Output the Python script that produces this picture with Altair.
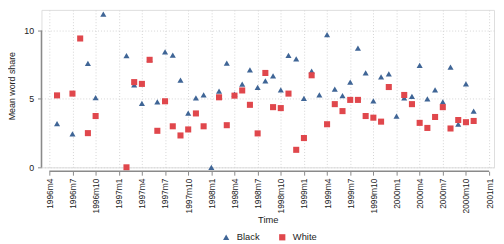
import altair as alt
import pandas as pd

tick_labels = ["1996m4", "1996m7", "1996m10", "1997m1", "1997m4", "1997m7", "1997m10",
               "1998m1", "1998m4", "1998m7", "1998m10", "1999m1", "1999m4", "1999m7",
               "1999m10", "2000m1", "2000m4", "2000m7", "2000m10", "2001m1"]

black_months = ["1996m5", "1996m7", "1996m9", "1996m10", "1996m11", "1997m2", "1997m3",
                "1997m4", "1997m5", "1997m6", "1997m7", "1997m8", "1997m9", "1997m10",
                "1997m11", "1997m12", "1998m1", "1998m2", "1998m3", "1998m4", "1998m5",
                "1998m6", "1998m7", "1998m8", "1998m9", "1998m10", "1998m11", "1998m12",
                "1999m1", "1999m2", "1999m3", "1999m4", "1999m5", "1999m6", "1999m7",
                "1999m8", "1999m9", "1999m10", "1999m11", "1999m12", "2000m1", "2000m2",
                "2000m3", "2000m4", "2000m5", "2000m6", "2000m7", "2000m8", "2000m9",
                "2000m10", "2000m11"]
black_share = [3.2, 2.45, 7.6, 5.1, 11.2, 8.16, 6.02,
               4.67, 7.9, 4.78, 8.45, 8.2, 6.37, 3.97,
               5.07, 5.29, 0.0, 5.58, 7.62, 5.36, 6.08,
               7.12, 5.84, 6.32, 6.68, 5.67, 8.18, 7.93,
               5.05, 7.04, 5.29, 9.71, 5.72, 5.24, 6.23,
               8.72, 6.9, 4.86, 6.61, 6.83, 3.75, 5.07,
               5.19, 7.45, 5.0, 5.67, 4.79, 7.33, 3.15,
               6.1, 4.11]

white_months = ["1996m5", "1996m7", "1996m8", "1996m9", "1996m10", "1997m2", "1997m3",
                "1997m4", "1997m5", "1997m6", "1997m7", "1997m8", "1997m9", "1997m10",
                "1997m11", "1997m12", "1998m2", "1998m3", "1998m4", "1998m5", "1998m6",
                "1998m7", "1998m8", "1998m9", "1998m10", "1998m11", "1998m12", "1999m1",
                "1999m2", "1999m4", "1999m5", "1999m6", "1999m7", "1999m8", "1999m9",
                "1999m10", "1999m11", "1999m12", "2000m2", "2000m3", "2000m4", "2000m5",
                "2000m6", "2000m7", "2000m8", "2000m9", "2000m10", "2000m11"]
white_share = [5.26, 5.39, 9.42, 2.5, 3.75, 0.0, 6.23,
               6.1, 7.86, 2.67, 4.83, 3.0, 2.33, 2.77,
               3.94, 3.0, 5.12, 3.08, 5.24, 5.62, 4.57,
               2.48, 6.9, 4.4, 4.33, 5.39, 1.28, 2.14,
               6.73, 3.15, 4.62, 4.11, 4.93, 4.93, 3.75,
               3.63, 3.34, 5.87, 5.29, 4.62, 3.25, 2.88,
               3.68, 4.4, 2.84, 3.46, 3.3, 3.39]

groups = ["Black", "White"]
colors = ["#3f6596", "#e0474c"]
shapes = ["triangle-up", "square"]


def month_index(s):
    y, m = s.split("m")
    return (int(y) - 1996) * 12 + int(m) - 4


rows = []
for mo, v in zip(black_months, black_share):
    rows.append({"t": month_index(mo), "share": v, "group": "Black"})
for mo, v in zip(white_months, white_share):
    rows.append({"t": month_index(mo), "share": v, "group": "White"})
df = pd.DataFrame(rows)

tick_vals = [month_index(s) for s in tick_labels]
label_expr = "[" + ",".join("'" + s + "'" for s in tick_labels) + "][round(datum.value/3)]"

FONT = "Liberation Sans"
AXIS_GREY = "#8a8a8a"
GRID = "#d4d4d4"

x_scale = alt.Scale(domain=[-1.02, 57.64], nice=False, zero=False)
y_scale = alt.Scale(domain=[0, 11.51], nice=False, zero=False)

legend_kw = dict(title=None, orient="none", direction="horizontal",
                 legendX=183, legendY=226, labelFont=FONT,
                 labelFontSize=9.5, labelColor="#222",
                 columnPadding=18, labelOffset=6, symbolSize=40)

x_axis = alt.Axis(values=tick_vals, labelExpr=label_expr, labelAngle=-90,
                  labelOverlap=False, labelBound=False, labelFlush=False,
                  title="Time", grid=True, gridDash=[1, 2], gridColor=GRID,
                  domain=False, offset=4, tickSize=4, tickColor=AXIS_GREY,
                  labelFont=FONT, labelFontSize=8.5, labelColor="#222",
                  labelPadding=3, titleFont=FONT, titleFontSize=9.5,
                  titleFontWeight="normal", titleColor="#222",
                  titleBaseline="middle", titleY=49)
y_axis = alt.Axis(values=[0, 5, 10], title="Mean word share", grid=True,
                  gridDash=[1, 2], gridColor=GRID, domain=False, tickSize=4,
                  tickColor=AXIS_GREY, labelFont=FONT, labelFontSize=9,
                  labelColor="#222", labelPadding=4, titleFont=FONT,
                  titleFontSize=9, titleFontWeight="normal", titleColor="#222",
                  titleX=-30, titleY=77, titleBaseline="middle")

points = alt.Chart(df).mark_point(filled=True, opacity=1, size=38).encode(
    x=alt.X("t:Q", scale=x_scale, axis=x_axis),
    y=alt.Y("share:Q", scale=y_scale, axis=y_axis),
    color=alt.Color("group:N", scale=alt.Scale(domain=groups, range=colors),
                    legend=alt.Legend(**legend_kw)),
    shape=alt.Shape("group:N", scale=alt.Scale(domain=groups, range=shapes),
                    legend=alt.Legend(**legend_kw)),
)

axis_src = pd.DataFrame({"a": [0]})
y_line = alt.Chart(axis_src).mark_rule(color=AXIS_GREY, strokeWidth=1.5).encode(
    x=alt.value(0), y=alt.YDatum(0, axis=y_axis), y2=alt.datum(10))
x_line = alt.Chart(axis_src).mark_rule(color=AXIS_GREY, strokeWidth=1.5).encode(
    y=alt.value(164), x=alt.XDatum(tick_vals[0], axis=x_axis), x2=alt.datum(tick_vals[-1]))

chart = alt.layer(points, y_line, x_line).properties(
    width=460, height=160,
    autosize=alt.AutoSizeParams(type="none"),
    padding={"left": 34, "top": 0, "right": 2, "bottom": 76},
).configure_view(stroke=None).configure_axis(labelOverlap=False).configure(background="white")

chart.save("out.html", embed_options={"renderer": "svg", "actions": False})
